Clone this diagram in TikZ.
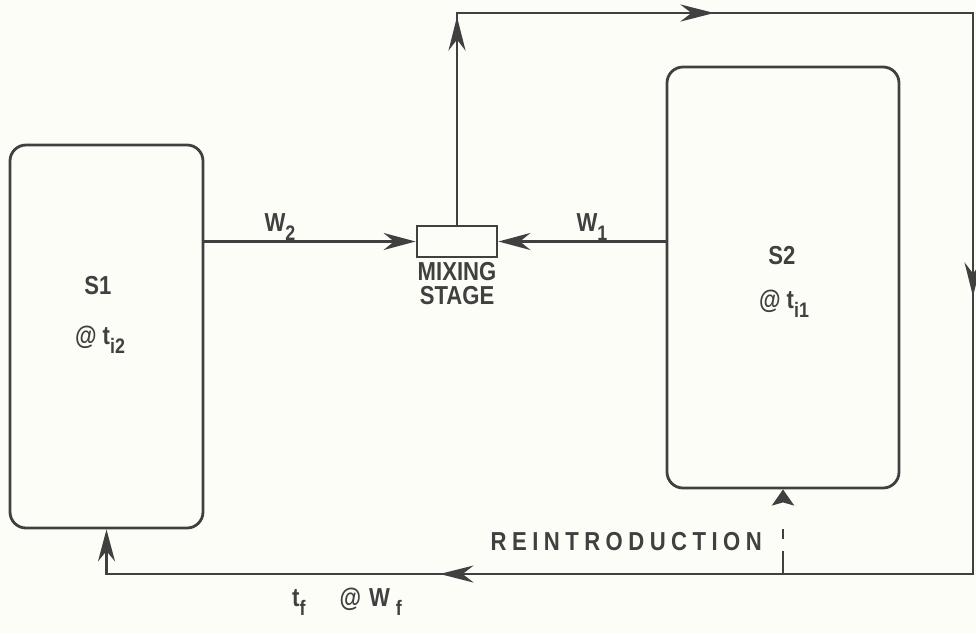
\documentclass[tikz,border=0pt]{standalone}
\usepackage{fontspec}
\setmainfont{Liberation Sans}[FakeStretch=0.85]
\usetikzlibrary{arrows.meta,decorations.markings}
\definecolor{ink}{RGB}{64,64,64}
\definecolor{paper}{RGB}{253,253,248}
\newcommand{\lowsub}[1]{\raisebox{-0.35em}{\fontsize{21}{21}\selectfont #1}}
\begin{document}
\begin{tikzpicture}[x=1pt,y=-1pt,
  tank/.style={draw=ink, line width=2.8pt, rounded corners=16pt},
  pipe/.style={draw=ink, line width=2.8pt},
  flow/.style={pipe, -{Stealth[length=32pt,width=17pt]}},
  lbl/.style={text=ink, font=\bfseries\fontsize{26}{30}\selectfont, inner sep=0pt},
  loopmarks/.style={postaction={decorate}, decoration={markings,
    mark=at position 208pt with {\arrow{Stealth[length=34pt,width=17pt]}},
    mark=at position 469pt with {\arrow{Stealth[length=34pt,width=17pt]}},
    mark=at position 1011pt with {\arrow{Stealth[length=34pt,width=17pt]}},
    mark=at position 1822pt with {\arrow{Stealth[length=34pt,width=17pt]}}}}]
\fill[paper] (0,0) rectangle (976,633);
\useasboundingbox (0,0) rectangle (976,633);
\node[tank, minimum width=193pt, minimum height=383pt] (s1) at (106.5,336.5) {};
\node[tank, minimum width=232pt, minimum height=421pt] (s2) at (783,277.5) {};
\node[pipe, minimum width=80pt, minimum height=31pt, inner sep=0pt] (mix) at (457,241.5) {};
\coordinate (ur) at (973,13);
\coordinate (lr) at (973,574);
\coordinate (rin) at (s2.south |- lr);
\draw[flow] (s1.east |- mix.west) -- (mix.west);
\draw[flow] (s2.west |- mix.east) -- (mix.east);
\draw[flow, loopmarks] (mix.north) |- (ur) -- (lr) -| (s1.south);
\draw[pipe, dash pattern=on 23pt off 12pt on 10pt off 30pt, -{Stealth[length=16pt,width=22pt,inset=3pt]}] (rin) -- (s2.south);
\node[lbl, anchor=base] (s1name) at (98,294) {S1};
\node[lbl, anchor=base] (s1temp) at (100,344) {@ t\lowsub{i2}};
\node[lbl, anchor=base] (s2name) at (782,264) {S2};
\node[lbl, anchor=base] (s2temp) at (784,308) {@ t\lowsub{i1}};
\node[lbl, anchor=base] (w2) at (280,231) {W\lowsub{2}};
\node[lbl, anchor=base] (w1) at (592,231) {W\lowsub{1}};
\node[lbl, anchor=base] (mixname) at (457,280) {MIXING};
\node[lbl, anchor=base] (stage) at (457,304) {STAGE};
\node[lbl, anchor=base east] (reintro) at (762,550) {\addfontfeatures{LetterSpace=21}REINTRODUCTION};
\node[lbl, anchor=base west] (tfwf) at (292,606) {t\lowsub{f}\hspace{34pt}@\hspace{8pt}W\hspace{6pt}\lowsub{f}};
\end{tikzpicture}
\end{document}
